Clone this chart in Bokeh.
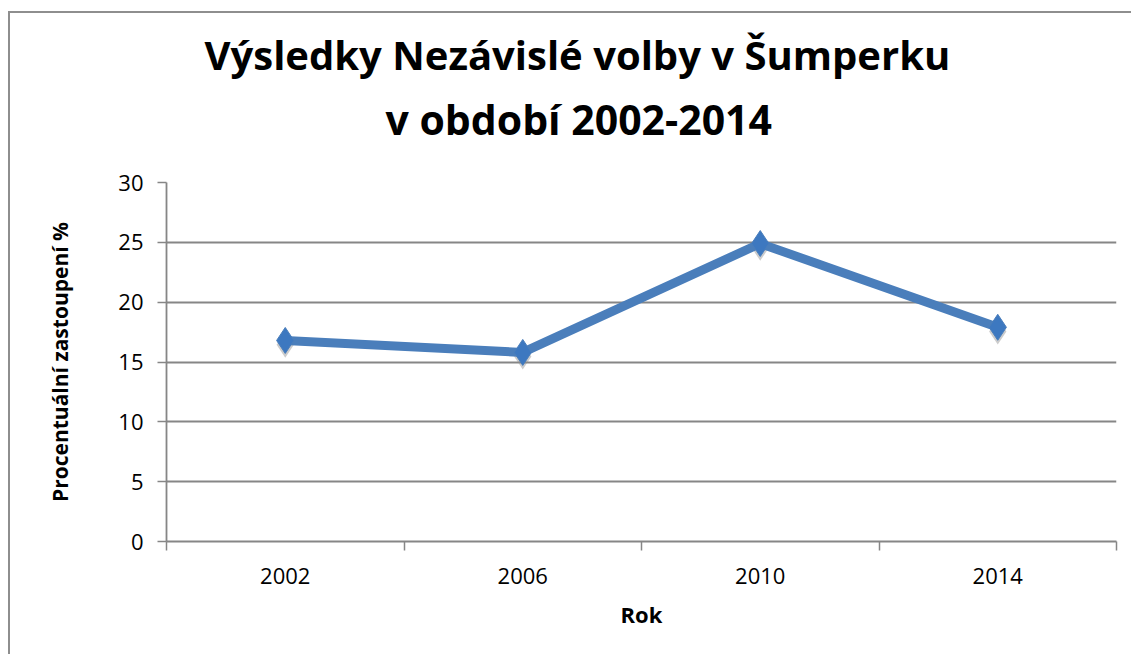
from bokeh.plotting import figure
from bokeh.models import FactorRange, Range1d, LinearAxis, FixedTicker, Title
from bokeh.transform import dodge
from bokeh.embed import file_html
from bokeh.resources import INLINE

years = ["2002", "2006", "2010", "2014"]
shares = [16.8, 15.8, 24.9, 17.9]
y_ticks = [0, 5, 10, 15, 20, 25, 30]
title_line1 = "Výsledky Nezávislé volby v Šumperku"
title_line2 = "v období 2002-2014"
x_label = "Rok"
y_label = "Procentuální zastoupení %"

GRAY = "#868686"
BLUE = "#4a7ebb"
FONT = "Open Sans"

p = figure(width=1123, height=643, x_range=FactorRange(*years), y_range=Range1d(0, 30),
           output_backend="svg", toolbar_location=None, title_location=None,
           min_border_left=156, min_border_right=17, min_border_top=169, min_border_bottom=115)
p.styles = {"border-top": "2px solid #8e8e8e", "border-left": "2px solid #8e8e8e",
            "margin-top": "11px", "margin-left": "8px"}
p.outline_line_color = None
p.background_fill_color = "white"
p.border_fill_color = "white"

# grid
p.xgrid.visible = False
p.ygrid.ticker = FixedTicker(ticks=y_ticks)
p.ygrid.grid_line_color = GRAY
p.ygrid.grid_line_width = 1.8

# y axis
ya = p.yaxis[0]
ya.ticker = FixedTicker(ticks=y_ticks)
ya.axis_line_color = GRAY
ya.axis_line_width = 1.8
ya.major_tick_line_color = GRAY
ya.major_tick_line_width = 1.5
ya.major_tick_out = 9
ya.major_tick_in = 0
ya.minor_tick_line_color = None
ya.major_label_text_font = FONT
ya.major_label_text_font_size = "22px"
ya.major_label_text_color = "black"
ya.major_label_standoff = 14
ya.axis_label = y_label
ya.axis_label_text_font = FONT
ya.axis_label_text_font_size = "21px"
ya.axis_label_text_font_style = "bold"
ya.axis_label_text_color = "black"
ya.axis_label_standoff = 41

# x axis (categories) + edge ticks axis
xa = p.xaxis[0]
xa.axis_line_color = None
xa.major_tick_line_color = None
xa.major_tick_out = 0
xa.major_tick_in = 0
xa.major_label_text_font = FONT
xa.major_label_text_font_size = "22px"
xa.major_label_text_color = "black"
xa.major_label_standoff = 17
xa.axis_label = x_label
xa.axis_label_text_font = FONT
xa.axis_label_text_font_size = "22px"
xa.axis_label_text_font_style = "bold"
xa.axis_label_text_color = "black"
xa.axis_label_standoff = 12

# ticks at the boundaries between categories (synthetic coordinates 0..n)
edge_ticks = list(range(len(years) + 1))
edge_axis = LinearAxis(ticker=FixedTicker(ticks=edge_ticks),
                       major_label_overrides={t: "" for t in edge_ticks},
                       major_label_text_font_size="1px", major_label_standoff=0,
                       axis_line_color=GRAY, axis_line_width=1.8,
                       major_tick_line_color=GRAY, major_tick_line_width=1.5,
                       major_tick_out=9, major_tick_in=0, minor_tick_line_color=None)
p.add_layout(edge_axis, "below")
p.below = [edge_axis, xa]

# data
src = dict(x=years, y=shares)
p.scatter(x="x", y=dodge("y", -0.35), source=src, marker="diamond", size=26,
          fill_color="#8f8f8f", fill_alpha=0.45, line_color=None)
p.line(x="x", y="y", source=src, line_width=9, color=BLUE)
p.scatter(x="x", y="y", source=src, marker="diamond", size=26,
          fill_color="#3d78c0", line_color="#4a7ebb", line_width=1)

# title (two lines)
t2 = Title(text=title_line2, align="left", offset=219, text_font=FONT, text_font_size="41px",
           text_font_style="bold", text_color="black", standoff=71)
t1 = Title(text=title_line1, align="left", offset=38, text_font=FONT, text_font_size="40px",
           text_font_style="bold", text_color="black", standoff=-56)
p.add_layout(t2, "above")
p.add_layout(t1, "above")

open("out.html", "w").write(file_html(p, INLINE))
